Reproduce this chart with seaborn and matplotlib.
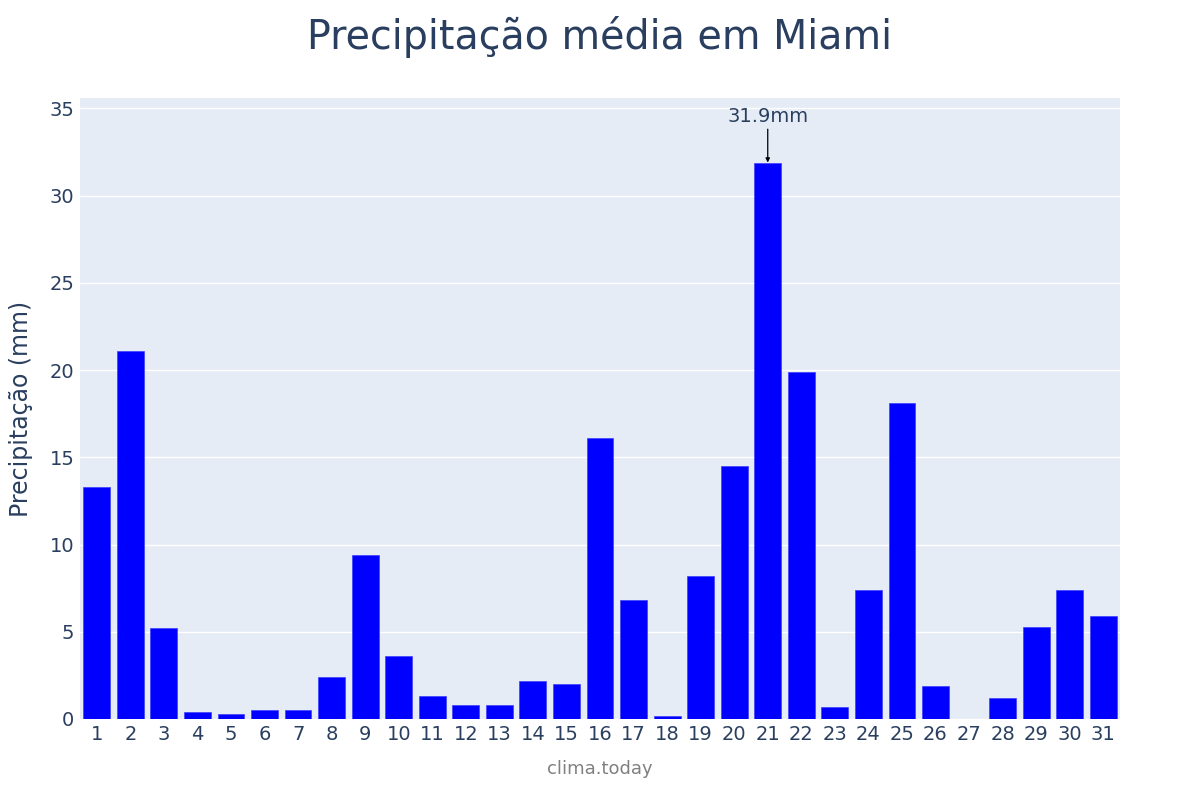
import matplotlib
matplotlib.use("Agg")
import matplotlib.pyplot as plt
import seaborn as sns
import pandas as pd

days = [str(d) for d in range(1, 32)]
precip = [13.3, 21.1, 5.2, 0.4, 0.3, 0.5, 0.5, 2.4, 9.4, 3.6,
          1.3, 0.8, 0.8, 2.2, 2.0, 16.1, 6.8, 0.2, 8.2, 14.5,
          31.9, 19.9, 0.7, 7.4, 18.1, 1.9, 0.0, 1.2, 5.3, 7.4, 5.9]
y_ticks = [0, 5, 10, 15, 20, 25, 30, 35]
title = "Precipitação média em Miami"
y_label = "Precipitação (mm)"
x_label = "clima.today"
peak_label = "31.9mm"

df = pd.DataFrame({"day": days, "mm": precip})

sns.set_theme(style="darkgrid")
plt.rcParams['font.family'] = ['DejaVu Sans']

text_col = "#2a3f5f"
fig = plt.figure(figsize=(12, 8), dpi=100)
ax = fig.add_axes([80/1200, 1 - 719/800, 1040/1200, (719 - 98)/800])
ax.set_facecolor("#e5ecf6")

sns.barplot(data=df, x="day", y="mm", order=days, color="#0000ff",
            saturation=1, width=0.8, ax=ax, edgecolor="#3d3dff", linewidth=0.5)

ax.set_xlim(-0.5, len(days) - 0.5)
ax.set_ylim(0, 35.6)
ax.set_yticks(y_ticks)
ax.grid(axis="y", color="white", linewidth=1)
ax.grid(axis="x", visible=False)
for s in ax.spines.values():
    s.set_visible(False)
ax.tick_params(axis="both", length=0, labelsize=14, colors=text_col, pad=4)
ax.set_xlabel(x_label, fontsize=13, color="#808080", labelpad=12)
ax.set_ylabel(y_label, fontsize=17, color=text_col, labelpad=12)

fig.text(0.5, 1 - 37/800, title, ha="center", va="center", fontsize=28.5, color=text_col)

imax = precip.index(max(precip))
ax.annotate(peak_label, xy=(imax, precip[imax]), xytext=(imax, 34.0),
            ha="center", va="bottom", fontsize=14, color=text_col,
            arrowprops=dict(arrowstyle="-|>", color="black", lw=0.9,
                            shrinkA=0, shrinkB=0, mutation_scale=6))

fig.savefig("out.png", dpi=100, facecolor="white")
